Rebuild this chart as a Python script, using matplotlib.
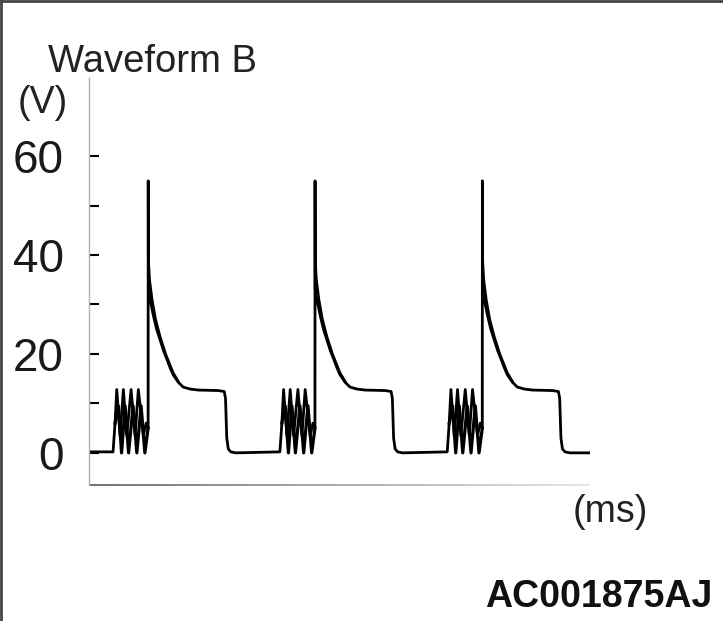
import numpy as np
import matplotlib
matplotlib.use("Agg")
import matplotlib.pyplot as plt
from matplotlib.lines import Line2D
from matplotlib.collections import LineCollection

plt.rcParams['font.family'] = ['Liberation Sans', 'DejaVu Sans']

# ---- data (time in arbitrary ms units, volts) ----
cycle_starts = [4.8, 38.1, 71.5]

# ringing before the spike, two overlapping traces (t relative to cycle start)
ring_a_t = [0.0, 0.4, 0.74, 1.4, 2.06, 2.73, 3.6, 4.4, 5.05, 6.05, 6.6]
ring_a_v = [0.2, 6.0, 12.8, 3.5, 12.8, 3.5, 12.8, 3.5, 12.8, 3.5, 6.0]
ring_b_t = [0.4, 1.05, 1.7, 2.4, 3.1, 4.0, 4.75, 5.6, 6.35, 7.0]
ring_b_v = [6.0, 9.5, 0.0, 9.5, 0.0, 9.5, 0.0, 9.5, 0.0, 5.0]

# spike, decay, plateau and fall back to zero
spike_t = [7.0, 7.02, 7.06, 7.4, 8.0, 8.7, 9.4, 10.1, 10.8, 11.4, 12.0, 13.0, 14.0,
           15.4, 17.0, 21.0, 22.2, 22.45, 22.7, 23.0, 23.5, 24.5]
spike_v = [5.0, 55.0, 33.0, 31.0, 28.0, 25.0, 22.8, 20.6, 18.8, 17.2, 15.8, 14.3, 13.3,
           12.9, 12.7, 12.6, 12.4, 11.0, 3.0, 0.8, 0.2, 0.0]

# upper edge of the thick part of the decay
decay_b_t = [7.03, 7.3, 7.8, 8.5, 9.4, 10.5, 12.0, 13.0]
decay_b_v = [40.0, 35.0, 31.0, 27.0, 23.5, 20.0, 16.2, 14.5]

t_end = 100.0
y_ticks = [0, 20, 40, 60]

# ---- build traces ----
main_t, main_v = [0.0], [0.2]
ring_lines, decay_lines = [], []
for s in cycle_starts:
    main_t += [s + t for t in ring_a_t] + [s + t for t in spike_t]
    main_v += ring_a_v + spike_v
    ring_lines.append(([s + t for t in ring_b_t], ring_b_v))
    decay_lines.append(([s + t for t in decay_b_t], decay_b_v))
main_t.append(t_end)
main_v.append(0.0)

fig = plt.figure(figsize=(7.23, 6.21), dpi=100)
ax = fig.add_axes([89/723, 1 - 485/621, (590-89)/723, (485-78)/621])

ax.plot(main_t, main_v, color='black', lw=2, solid_joinstyle='round')
for rt, rv in ring_lines:
    ax.plot(rt, rv, color='black', lw=2.3)
for dt, dv in decay_lines:
    ax.plot(dt, dv, color='black', lw=1.8)

ax.set_xlim(0, t_end)
ax.set_ylim(-6.5, 75.8)
ax.set_xticks([])
ax.set_yticks(y_ticks)
ax.set_yticks(range(0, 61, 10), minor=True)
ax.tick_params(axis='y', which='both', direction='in', length=7, width=1.5,
               color='black', labelsize=33, pad=18, labelcolor='#1a1a1a')
for sp in ['top', 'right', 'bottom']:
    ax.spines[sp].set_visible(False)
ax.spines['left'].set_color('#b0b0b0')
ax.spines['left'].set_linewidth(1)

# x axis line fading out to the right
xs = np.linspace(0, t_end, 60)
segs = [[(xs[i], -6.5), (xs[i + 1], -6.5)] for i in range(len(xs) - 1)]
greys = np.linspace(0.35, 0.88, len(segs))
lc = LineCollection(segs, colors=[(g, g, g) for g in greys], lw=1.2, clip_on=False)
ax.add_collection(lc)

def px(x, y):
    return x / 723, 1 - y / 621

fig.text(*px(48, 72), 'Waveform B', fontsize=27.5, va='baseline', ha='left', color='#222222')
fig.text(*px(18, 103), '(V)', fontsize=27, va='center', ha='left', color='#222222')
fig.text(*px(573, 512), '(ms)', fontsize=27, va='center', ha='left', color='#222222')
fig.text(*px(712, 607), 'AC001875AJ', fontsize=27, fontweight='bold', va='baseline',
         ha='right', color='#111111')

# frame lines on the top and left edges of the picture
fig.add_artist(Line2D([0, 1], [0.999, 0.999], color='#444444', lw=2, transform=fig.transFigure))
fig.add_artist(Line2D([0.001, 0.001], [0, 1], color='#444444', lw=2, transform=fig.transFigure))

fig.savefig('out.png', dpi=100)
